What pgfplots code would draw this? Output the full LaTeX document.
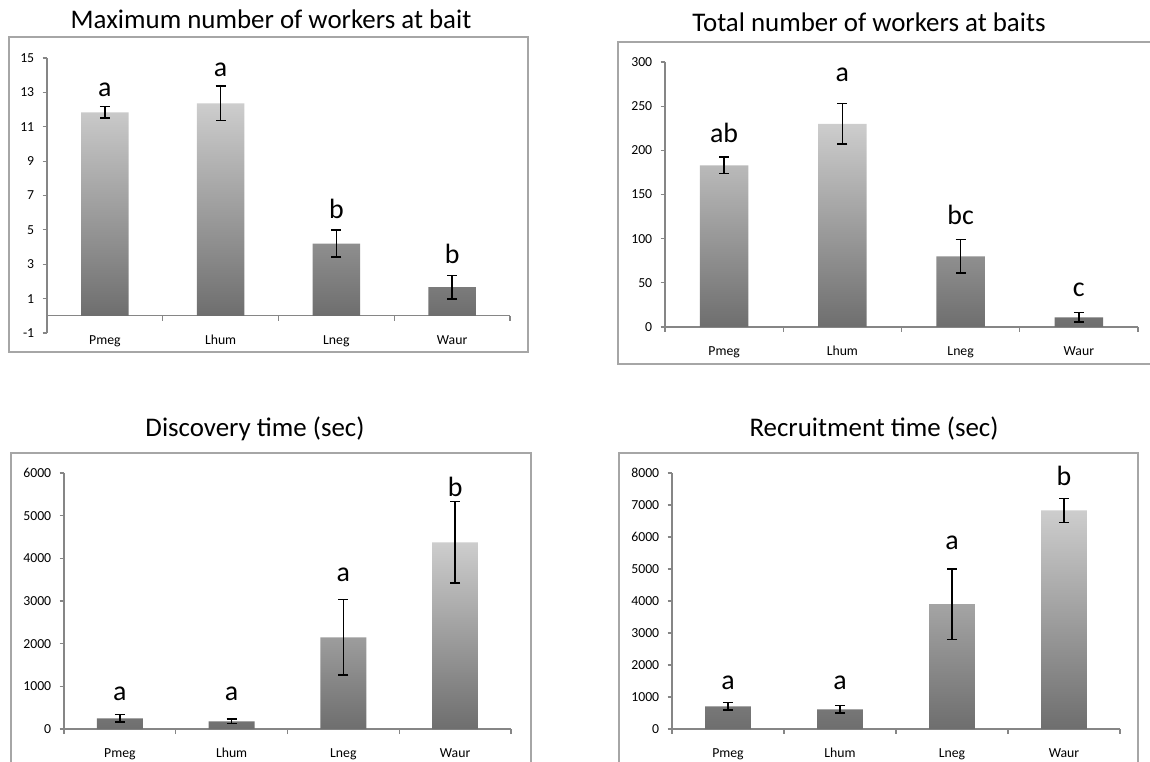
\documentclass[border=0pt]{standalone}
\usepackage{fontspec}
\setmainfont{Carlito}
\usepackage{pgfplots}
\pgfplotsset{compat=1.18}

\definecolor{bartop}{HTML}{CDCDCD}
\definecolor{barbot}{HTML}{6E6E6E}
\definecolor{axisgray}{HTML}{868686}
\definecolor{framegray}{HTML}{A6A6A6}

\pgfplotsset{
  antpanel/.style={
    scale only axis,
    anchor=south west,
    clip=false,
    axis y line*=left,
    axis x line*=middle,
    xmin=0.5, xmax=4.5,
    xtick={1,2,3,4},
    xticklabels={Pmeg,Lhum,Lneg,Waur},
    minor xtick={0.5,1.5,2.5,3.5,4.5},
    major x tick style={draw=none},
    tick align=outside,
    major tick length=2.2bp,
    minor tick length=2.5bp,
    axis line style={axisgray, line width=0.6bp},
    tick style={axisgray, line width=0.6bp},
    tick label style={font=\fontsize{6.9}{8}\selectfont, text=black},
    yticklabel style={anchor=east, inner sep=0pt, xshift=-4bp},
    xticklabel style={anchor=base, inner sep=0pt, yshift=-12bp},
    scaled y ticks=false,
    /pgf/number format/1000 sep={},
    /pgf/number format/assume math mode=true,
  },
  antbar/.style={
    ybar, bar width=0.41, draw=none,
    top color=bartop, bottom color=barbot,
    error bars/.cd, y dir=both, y explicit,
    error bar style={black, line width=0.75bp},
    error mark options={rotate=90, black, mark size=2.5bp, line width=0.75bp},
  },
  antletter/.style={
    draw=none, nodes near coords, point meta=explicit symbolic,
    nodes near coords style={anchor=base, inner sep=0pt,
      font=\fontsize{14}{16}\selectfont, text=black},
  },
}

\begin{document}
\begin{tikzpicture}
\useasboundingbox (0,0) rectangle (575bp,381bp);

% frames
\draw[framegray, line width=0.6bp] (4.5bp,205bp) rectangle (264bp,362.5bp);
\draw[framegray, line width=0.6bp] (575bp,199bp) -- (309bp,199bp) -- (309bp,360bp) -- (575bp,360bp);
\draw[framegray, line width=0.6bp] (5.5bp,0bp) -- (5.5bp,154.5bp) -- (265.5bp,154.5bp) -- (265.5bp,0bp);
\draw[framegray, line width=0.6bp] (309.5bp,0bp) -- (309.5bp,154.5bp) -- (569bp,154.5bp) -- (569bp,0bp);

% titles
\node[anchor=base, font=\fontsize{13.5}{16}\selectfont] at (135.5bp,366.5bp) {Maximum number of workers at bait};
\node[anchor=base, font=\fontsize{13.5}{16}\selectfont] at (434.5bp,365bp) {Total number of workers at baits};
\node[anchor=base, font=\fontsize{13.5}{16}\selectfont] at (127.5bp,162.7bp) {Discovery time (sec)};
\node[anchor=base, font=\fontsize{13.5}{16}\selectfont] at (437bp,162.7bp) {Recruitment time (sec)};

% Maximum number of workers at bait
\begin{axis}[antpanel, at={(23.5bp,214.5bp)}, width=231.5bp, height=137.5bp,
  ymin=-1, ymax=15, ytick={-1,1,3,5,7,9,11,13,15}]
\addplot[antbar] coordinates {(1,11.84) +- (0,0.33) (2,12.36) +- (0,1.0) (3,4.2) +- (0,0.78) (4,1.67) +- (0,0.68)};
\addplot[antletter] coordinates {(1,12.75)[a] (2,13.9)[a] (3,5.67)[b] (4,3.05)[b]};
\end{axis}

% Total number of workers at baits
\begin{axis}[antpanel, at={(332.5bp,217.5bp)}, width=236.5bp, height=132.5bp,
  ymin=0, ymax=300, ytick={0,50,...,300}]
\addplot[antbar] coordinates {(1,183) +- (0,9.5) (2,230) +- (0,23) (3,80) +- (0,19) (4,11) +- (0,5.2)};
\addplot[antletter] coordinates {(1,208.6)[ab] (2,277.7)[a] (3,116.6)[bc] (4,34.3)[c]};
\end{axis}

% Discovery time (sec)
\begin{axis}[antpanel, at={(32bp,16.5bp)}, width=223.5bp, height=128bp,
  ymin=0, ymax=6000, ytick={0,1000,...,6000}]
\addplot[antbar] coordinates {(1,250) +- (0,86) (2,180) +- (0,50) (3,2148) +- (0,887) (4,4375) +- (0,957)};
\addplot[antletter] coordinates {(1,663)[a] (2,663)[a] (3,3452)[a] (4,5445)[b]};
\end{axis}

% Recruitment time (sec)
\begin{axis}[antpanel, at={(336bp,16.5bp)}, width=224bp, height=128bp,
  ymin=0, ymax=8000, ytick={0,1000,...,8000}]
\addplot[antbar] coordinates {(1,709) +- (0,115) (2,615) +- (0,120) (3,3900) +- (0,1105) (4,6830) +- (0,380)};
\addplot[antletter] coordinates {(1,1219)[a] (2,1219)[a] (3,5594)[a] (4,7604)[b]};
\end{axis}
\end{tikzpicture}
\end{document}
